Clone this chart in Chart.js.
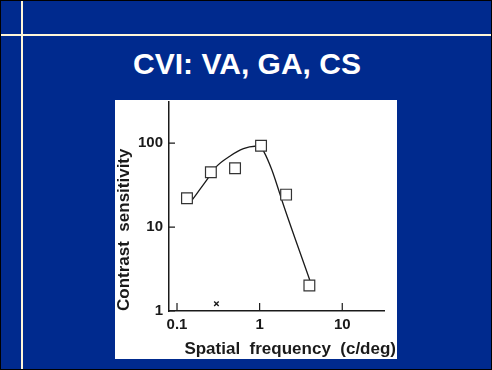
<!DOCTYPE html>
<html>
<head>
<meta charset="utf-8">
<script src="https://cdn.jsdelivr.net/npm/chart.js@4/dist/chart.umd.min.js"></script>
<style>
  html, body { margin: 0; padding: 0; }
  body {
    width: 492px; height: 370px; position: relative; overflow: hidden;
    background: #002A8E; box-sizing: border-box; border: 1px solid #000;
    font-family: "Liberation Sans", Arial, sans-serif;
  }
  .hline { position: absolute; left: 0; top: 33px; width: 492px; height: 2px; background: #FFF6D8; }
  .vline { position: absolute; left: 20px; top: 0; width: 2px; height: 370px; background: #FFF6D8; }
  h1 {
    position: absolute; left: 0; width: 492px; top: 46px; margin: 0;
    text-align: center; color: #fff; font-size: 30px; font-weight: bold;
  }
  .panel { position: absolute; left: 114px; top: 99px; width: 282px; height: 259px; background: #fff; }
</style>
</head>
<body>
<div class="hline"></div>
<div class="vline"></div>
<h1>CVI: VA, GA, CS</h1>
<div class="panel"><canvas id="cs-chart" width="282" height="259"></canvas></div>
<script>
// measured points (c/deg, contrast sensitivity)
const freqs = [0.132, 0.257, 0.504, 1.04, 2.09, 4.0];
const sens = [22.1, 45, 50.4, 93.4, 24.4, 2.01];

// hand-drawn fitted curve
const curveFreqs = [0.152, 0.224, 0.297, 0.435, 0.637, 0.877, 1.03, 1.12, 1.40, 1.69, 1.89, 4.04];
const curveSens = [21, 35.3, 52.2, 70, 86, 92, 89.6, 80, 48.6, 28.1, 19.9, 2.34];

// the little 'x' near the axis
const markFreq = [0.3];
const markSens = [1.22];

const xTicks = [0.1, 1, 10];
const yTicks = [1, 10, 100];

const ink = '#1a1a1a';
const tickFont = { family: '"Liberation Sans", Arial, sans-serif', size: 15, weight: 'bold' };
const titleFont = { family: '"Liberation Sans", Arial, sans-serif', size: 17, weight: 'bold' };

const toPoints = (xs, ys) => xs.map((x, i) => ({ x: x, y: ys[i] }));

// short tick marks drawn on the inner side of both axes
const innerTicks = {
    id: 'innerTicks',
    afterDatasetsDraw(chart) {
        const { ctx, scales: { x, y } } = chart;
        ctx.save();
        ctx.strokeStyle = ink;
        ctx.lineWidth = 1.2;
        ctx.beginPath();
        xTicks.forEach(v => {
            const px = x.getPixelForValue(v);
            ctx.moveTo(px, y.bottom);
            ctx.lineTo(px, y.bottom - 8);
        });
        yTicks.forEach(v => {
            const py = y.getPixelForValue(v);
            ctx.moveTo(x.left, py);
            ctx.lineTo(x.left + 6, py);
        });
        ctx.stroke();
        // x axis title sits a bit right of centre in the figure
        ctx.fillStyle = ink;
        ctx.font = 'bold 17px "Liberation Sans", Arial, sans-serif';
        ctx.textAlign = 'right';
        ctx.textBaseline = 'middle';
        ctx.fillText('Spatial  frequency  (c/deg)', x.right + 12, chart.height - 10);
        ctx.restore();
    }
};

new Chart(document.getElementById('cs-chart'), {
    type: 'scatter',
    data: {
        datasets: [
            {
                data: toPoints(freqs, sens),
                pointStyle: 'rect',
                pointRadius: 7.6,
                pointBackgroundColor: '#fff',
                pointBorderColor: '#333',
                pointBorderWidth: 1.2,
                showLine: false,
                order: 0
            },
            {
                data: toPoints(markFreq, markSens),
                pointStyle: 'crossRot',
                pointRadius: 3.2,
                pointBorderColor: ink,
                pointBorderWidth: 1.4,
                showLine: false,
                order: 1
            },
            {
                data: toPoints(curveFreqs, curveSens),
                showLine: true,
                borderColor: ink,
                borderWidth: 1.3,
                pointRadius: 0,
                cubicInterpolationMode: 'monotone',
                order: 2
            }
        ]
    },
    options: {
        responsive: false,
        animation: false,
        layout: { autoPadding: false, padding: { top: 2, right: 13, bottom: 0, left: 0 } },
        plugins: { legend: { display: false }, tooltip: { enabled: false } },
        scales: {
            x: {
                type: 'logarithmic',
                min: 0.08,
                max: 32,
                afterBuildTicks: s => { s.ticks = xTicks.map(v => ({ value: v })); },
                afterFit: s => { s.height = 48; },
                ticks: { color: ink, font: tickFont, padding: 5, maxRotation: 0, autoSkip: false,
                         callback: v => String(v) },
                grid: { display: false, drawTicks: false },
                border: { display: true, color: ink, width: 1.5 }
            },
            y: {
                type: 'logarithmic',
                min: 1,
                max: 310,
                afterBuildTicks: s => { s.ticks = yTicks.map(v => ({ value: v })); },
                afterFit: s => { s.width = 54; s.paddingTop = 0; s.paddingBottom = 0; },
                ticks: { color: ink, font: tickFont, padding: 6, autoSkip: false,
                         callback: v => String(v) },
                grid: { display: false, drawTicks: false },
                border: { display: true, color: ink, width: 1.5 },
                title: { display: true, text: 'Contrast  sensitivity', align: 'start',
                         color: ink, font: titleFont, padding: { top: -1, bottom: 0 } }
            }
        }
    },
    plugins: [innerTicks]
});
</script>
</body>
</html>
